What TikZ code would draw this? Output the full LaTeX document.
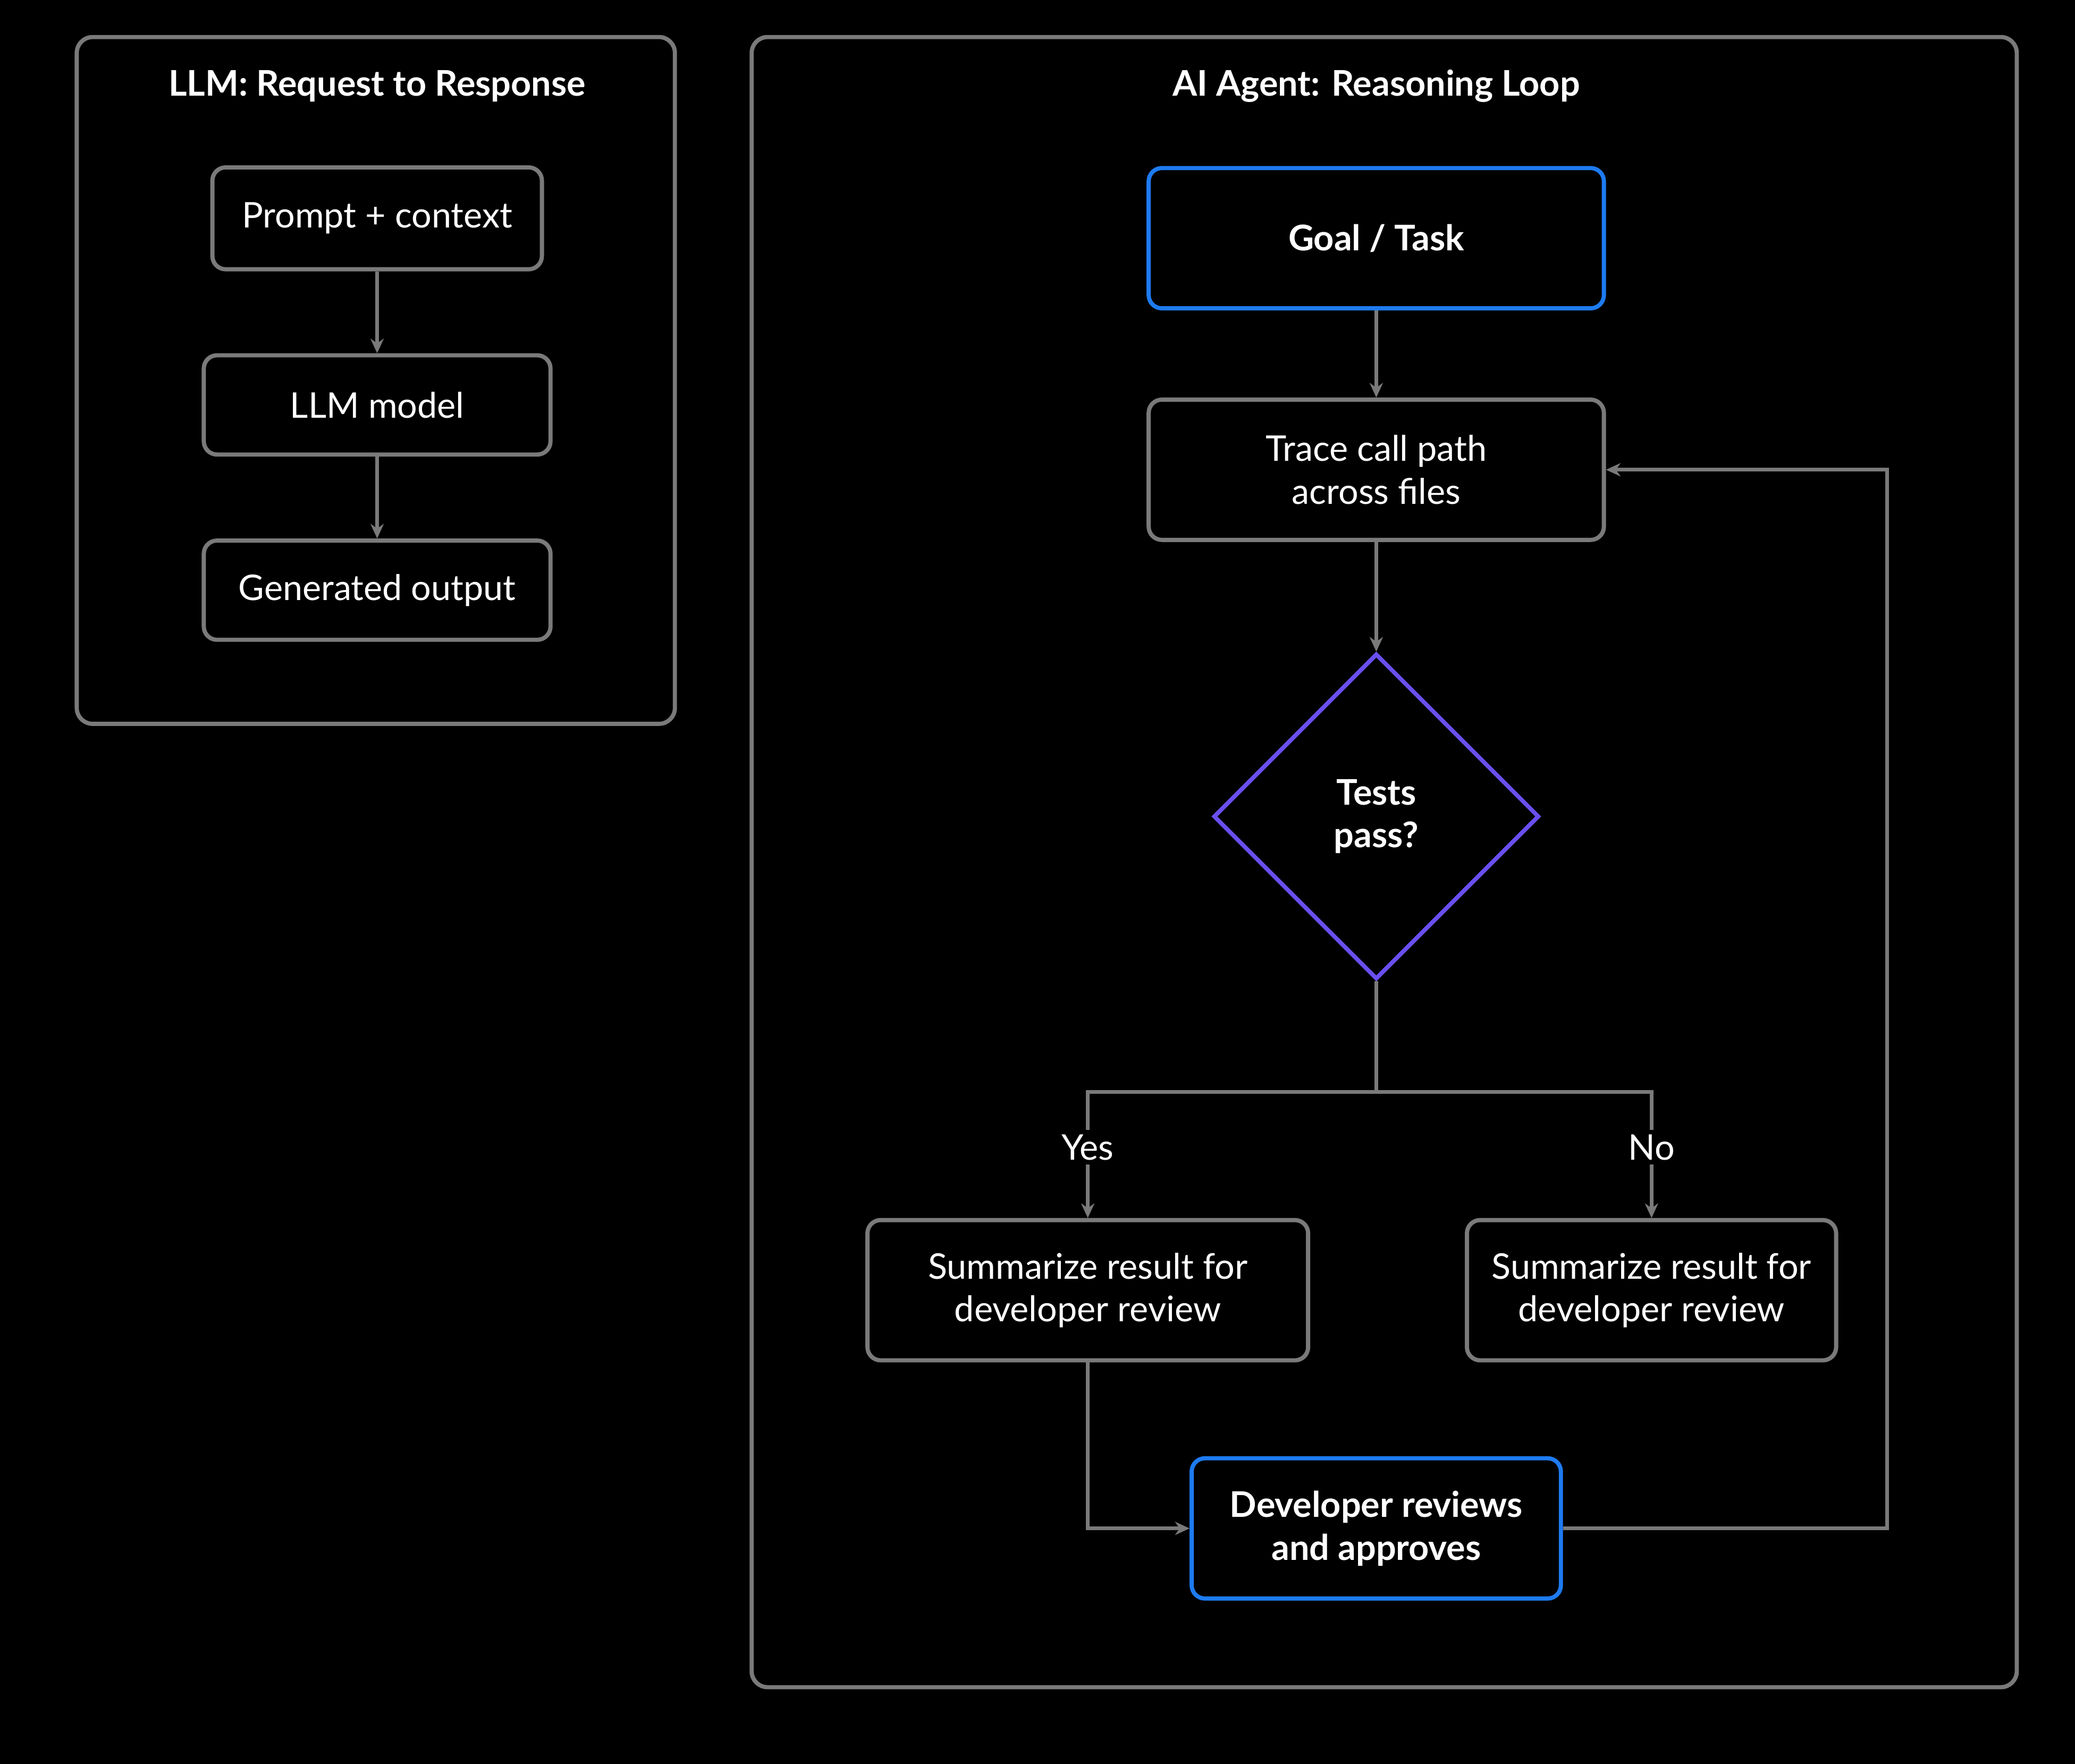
\documentclass[tikz,border=0pt]{standalone}
\usepackage{fontspec}
\setmainfont{Lato}
\usetikzlibrary{shapes.geometric,arrows.meta}
\definecolor{edgegrey}{HTML}{7A7A7A}
\definecolor{goalblue}{HTML}{1E7BF0}
\definecolor{checkviolet}{HTML}{6A4FF0}
\tikzstyle{panel} = [draw=edgegrey, line width=0.9pt, rounded corners=1.2mm]
\tikzstyle{stepbox} = [draw=edgegrey, line width=0.9pt, rounded corners=1mm, text=white, align=center, font=\fontsize{7.6}{9.2}\selectfont]
\tikzstyle{keybox} = [stepbox, draw=goalblue, font=\fontsize{7.6}{9.2}\selectfont\bfseries]
\tikzstyle{flow} = [draw=edgegrey, line width=0.8pt, -{Stealth[length=1.1mm,width=1mm]}]

\begin{document}
\begin{tikzpicture}[x=0.1mm, y=-0.1mm]
  \fill[black] (0,0) rectangle (1568,1333);
  \useasboundingbox (0,0) rectangle (1568,1333);

  % left panel
  \draw[panel] (58,28) rectangle (510,547);
  \node (llmtitle) at (285,65) [text=white, font=\fontsize{7.6}{9.2}\selectfont\bfseries] {LLM: Request to Response};
  \node (prompt) at (285,165) [stepbox, minimum width=24.9mm, minimum height=7.7mm] {Prompt + context};
  \node (model) at (285,306) [stepbox, minimum width=26.2mm, minimum height=7.5mm] {LLM model};
  \node (output) at (285,446) [stepbox, minimum width=26.2mm, minimum height=7.5mm] {Generated output};
  \draw[flow] (prompt) -- (model);
  \draw[flow] (model) -- (output);

  % right panel
  \draw[panel] (568,28) rectangle (1524,1275);
  \node (agenttitle) at (1040,65) [text=white, font=\fontsize{7.6}{9.2}\selectfont\bfseries] {AI Agent: Reasoning Loop};
  \node (goal) at (1040,180) [keybox, minimum width=34.4mm, minimum height=10.6mm] {Goal / Task};
  \node (trace) at (1040,355) [stepbox, minimum width=34.4mm, minimum height=10.6mm] {Trace call path\\across files};
  \node (tests) at (1040,617) [diamond, draw=checkviolet, line width=0.9pt, minimum width=24.6mm, minimum height=24.6mm, inner sep=0pt, text=white, align=center, font=\fontsize{7.6}{9.2}\selectfont\bfseries] {Tests\\pass?};
  \node (yesbox) at (822,975) [stepbox, minimum width=33.3mm, minimum height=10.6mm] {Summarize result for\\developer review};
  \node (nobox) at (1248,975) [stepbox, minimum width=27.9mm, minimum height=10.6mm] {Summarize result for\\developer review};
  \node (review) at (1040,1155) [keybox, minimum width=27.9mm, minimum height=10.6mm] {Developer reviews\\and approves};
  \coordinate (split) at (1040,825);
  \coordinate (loop) at (1426,1155);

  \draw[flow] (goal) -- (trace);
  \draw[flow] (trace) -- (tests);
  \draw[draw=edgegrey, line width=0.8pt] (tests.south) -- (split);
  \draw[flow] (split) -| node[pos=0.72, fill=black, text=white, font=\fontsize{7.6}{9.2}\selectfont, inner sep=1pt] {Yes} (yesbox.north);
  \draw[flow] (split) -| node[pos=0.72, fill=black, text=white, font=\fontsize{7.6}{9.2}\selectfont, inner sep=1pt] {No} (nobox.north);
  \draw[flow] (yesbox.south) |- (review.west);
  \draw[flow] (review.east) -- (loop) |- (trace.east);
\end{tikzpicture}
\end{document}
